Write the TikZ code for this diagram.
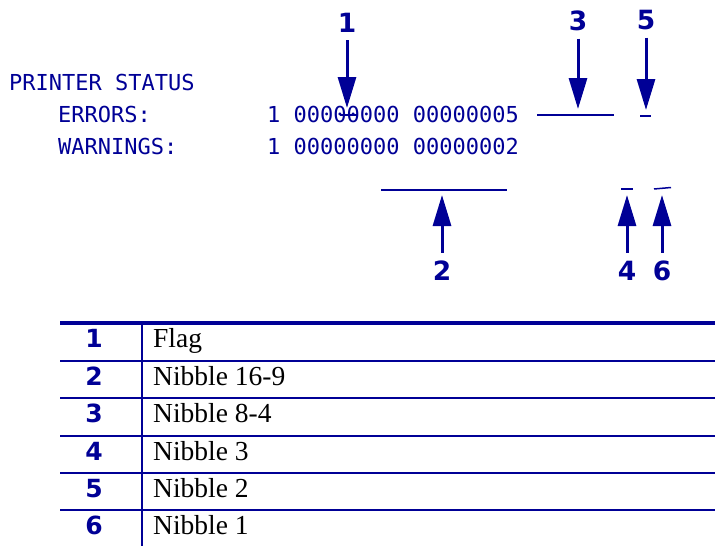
\documentclass[tikz,border=0pt]{standalone}
\usepackage{fontspec}
\setmainfont{Liberation Serif}
\newfontfamily\monofnt{DejaVu Sans Mono}
\newfontfamily\labfnt{DejaVu Sans}
\usetikzlibrary{arrows.meta}
\definecolor{zblue}{RGB}{0,0,150}
\begin{document}
\begin{tikzpicture}[x=1pt,y=-1pt,
  mono/.style={anchor=base west,inner sep=0pt,text=zblue,font=\monofnt\fontsize{22}{24}\selectfont},
  toplab/.style={anchor=base,inner xsep=0pt,inner ysep=8pt,text=zblue,font=\labfnt\bfseries\fontsize{26.5}{30}\selectfont},
  botlab/.style={anchor=base,inner xsep=0pt,inner ysep=7.5pt,text=zblue,font=\labfnt\bfseries\fontsize{26.5}{30}\selectfont},
  arr/.style={draw=zblue,line width=3pt,-{Triangle[length=31pt,width=18pt]}},
  brk/.style={draw=zblue,line width=2.5pt},
  rowline/.style={draw=zblue,line width=2.3pt},
  numcell/.style={anchor=base,inner sep=0pt,text=zblue,font=\labfnt\bfseries\fontsize{25}{28}\selectfont},
  txtcell/.style={anchor=base west,inner sep=0pt,font=\fontsize{27.5}{30}\selectfont}]
\useasboundingbox (0,0) rectangle (715,546);

% status text
\node[mono] (ps) at (9,90) {PRINTER STATUS};
\node[mono] (er) at (58,122) {ERRORS:};
\node[mono] (wa) at (58,154) {WARNINGS:};
\node[mono] (erv) at (267,122) {1 00000000 00000005};
\node[mono] (wav) at (267,154) {1 00000000 00000002};

% bracket lines
\draw[draw=zblue,line width=2pt] (340,115) -- (357,115);
\draw[brk] (537,115) -- (614,115);
\draw[brk] (640,116) -- (651,116);
\draw[brk] (381,190) -- (507,190);
\draw[brk] (621,189) -- (633,189);
\draw[draw=zblue,line width=1.5pt] (654,189) -- (671,187.5);

% labels and arrows
\node[toplab] (l1) at (347,32) {1};
\node[toplab] (l3) at (578,30) {3};
\node[toplab] (l5) at (646,29) {5};
\node[botlab] (l2) at (442,280) {2};
\node[botlab] (l4) at (627,280) {4};
\node[botlab] (l6) at (662,280) {6};
\coordinate (t1) at (347,108);
\coordinate (t3) at (578,109);
\coordinate (t5) at (646,110);
\coordinate (t2) at (442,195);
\coordinate (t4) at (627,195);
\coordinate (t6) at (662,195);
\draw[arr] (l1) -- (t1);
\draw[arr] (l3) -- (t3);
\draw[arr] (l5) -- (t5);
\draw[arr] (l2) -- (t2);
\draw[arr] (l4) -- (t4);
\draw[arr] (l6) -- (t6);

% table
\draw[draw=zblue,line width=4pt] (60,323) -- (715,323);
\foreach \yy in {361,398,436,473,510} \draw[rowline] (60,\yy) -- (715,\yy);
\draw[rowline] (142,323) -- (142,546);

\node[numcell] (n1) at (94,347) {1};
\node[numcell] (n2) at (94,385) {2};
\node[numcell] (n3) at (94,422) {3};
\node[numcell] (n4) at (94,460) {4};
\node[numcell] (n5) at (94,497) {5};
\node[numcell] (n6) at (94,534) {6};
\node[txtcell] (d1) at (153,347) {Flag};
\node[txtcell] (d2) at (153,385) {Nibble 16-9};
\node[txtcell] (d3) at (153,422) {Nibble 8-4};
\node[txtcell] (d4) at (153,460) {Nibble 3};
\node[txtcell] (d5) at (153,497) {Nibble 2};
\node[txtcell] (d6) at (153,534) {Nibble 1};
\end{tikzpicture}
\end{document}
